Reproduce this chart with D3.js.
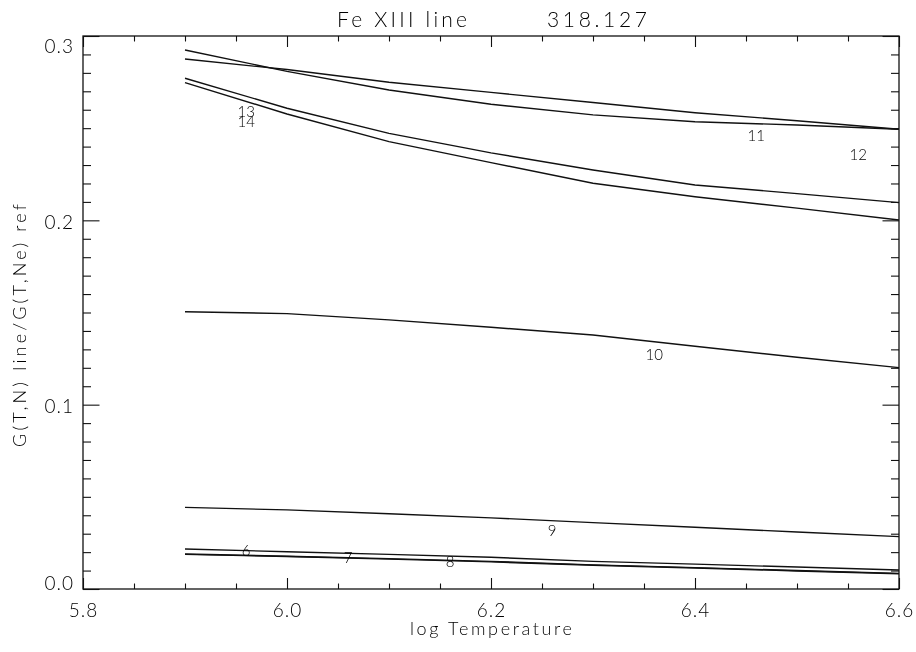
<!DOCTYPE html>
<html>
<head>
<meta charset="utf-8">
<script src="https://cdn.jsdelivr.net/npm/d3@7/dist/d3.min.js"></script>
<style>
	body { margin: 0; background: #fff; }
	svg { display: block; will-change: transform; }
	text { font-family: Lato, 'DejaVu Sans', sans-serif; font-weight: 300; fill: #000; }
</style>
</head>
<body>
<svg id="chart"></svg>
<script>
// temperature grid of every curve
let logT = [5.9, 6.0, 6.1, 6.2, 6.3, 6.4, 6.5, 6.6];

// G(T,N) line / G(T,Ne) ref, one list per line
let g6  = [0.0217, 0.0202, 0.0188, 0.0172, 0.0150, 0.0135, 0.0119, 0.0103];
let g7  = [0.0190, 0.0178, 0.0165, 0.0150, 0.0131, 0.0116, 0.0100, 0.0085];
let g8  = [0.0188, 0.0176, 0.0162, 0.0147, 0.0129, 0.0114, 0.0098, 0.0083];
let g9  = [0.0443, 0.0429, 0.0408, 0.0386, 0.0360, 0.0335, 0.0309, 0.0284];
let g10 = [0.1504, 0.1494, 0.1460, 0.1420, 0.1378, 0.1317, 0.1257, 0.1201];
let g11 = [0.2875, 0.2818, 0.2749, 0.2694, 0.2639, 0.2584, 0.2540, 0.2494];
let g12 = [0.2924, 0.2808, 0.2707, 0.2630, 0.2572, 0.2535, 0.2517, 0.2494];
let g13 = [0.2771, 0.2608, 0.2472, 0.2366, 0.2273, 0.2192, 0.2145, 0.2096];
let g14 = [0.2747, 0.2577, 0.2427, 0.2313, 0.2201, 0.2128, 0.2066, 0.2002];

// line numbers and where they are written (data units)
let lineIds = ['6', '7', '8', '9', '10', '11', '12', '13', '14'];
let labelT  = [5.96, 6.06, 6.16, 6.26, 6.36, 6.46, 6.56, 5.96, 5.96];
let labelG  = [0.0179, 0.0141, 0.0119, 0.0288, 0.1242, 0.2430, 0.2327, 0.2561, 0.2506];

let xMajor = [5.8, 6.0, 6.2, 6.4, 6.6];
let yMajor = [0.0, 0.1, 0.2, 0.3];

function makeChart() {
	let w = 916;
	let h = 652;
	let left = 83, right = 899, top = 36, bottom = 589;

	let chart = d3.select('#chart')
		.attr('width', w)
		.attr('height', h);

	let x = d3.scaleLinear().domain([5.8, 6.6]).range([left, right]);
	let y = d3.scaleLinear().domain([0, 0.3]).range([bottom, top]);

	let xMinor = d3.range(5.8, 6.6001, 0.05).filter(v => xMajor.every(m => Math.abs(m - v) > 1e-6));
	let yMinor = d3.range(0, 0.3001, 0.01).filter(v => yMajor.every(m => Math.abs(m - v) > 1e-6));

	let fmt = d3.format('.1f');

	function tidy(g) {
		g.select('.domain').remove();
		g.selectAll('line').attr('stroke', '#111').attr('stroke-width', 1.1);
	}

	// bottom
	chart.append('g').attr('transform', `translate(0,${bottom})`)
		.call(d3.axisBottom(x).tickValues(xMajor).tickSize(-11).tickPadding(15).tickFormat(fmt))
		.call(tidy)
		.selectAll('text')
		.style('font-size', '19px').style('font-family', null).style('letter-spacing', '1px');
	chart.append('g').attr('transform', `translate(0,${bottom})`)
		.call(d3.axisBottom(x).tickValues(xMinor).tickSize(-5.5).tickFormat(''))
		.call(tidy);
	// top
	chart.append('g').attr('transform', `translate(0,${top})`)
		.call(d3.axisTop(x).tickValues(xMajor).tickSize(-11).tickFormat(''))
		.call(tidy);
	chart.append('g').attr('transform', `translate(0,${top})`)
		.call(d3.axisTop(x).tickValues(xMinor).tickSize(-5.5).tickFormat(''))
		.call(tidy);
	// left
	let yl = chart.append('g').attr('transform', `translate(${left},0)`)
		.call(d3.axisLeft(y).tickValues(yMajor).tickSize(-16.5).tickPadding(9).tickFormat(fmt))
		.call(tidy);
	yl.selectAll('text')
		.style('font-size', '19px').style('font-family', null).style('letter-spacing', '1px')
		.attr('dy', d => d === 0.3 ? '0.85em' : d === 0 ? '0.05em' : '0.42em');
	chart.append('g').attr('transform', `translate(${left},0)`)
		.call(d3.axisLeft(y).tickValues(yMinor).tickSize(-8).tickFormat(''))
		.call(tidy);
	// right
	chart.append('g').attr('transform', `translate(${right},0)`)
		.call(d3.axisRight(y).tickValues(yMajor).tickSize(-16.5).tickFormat(''))
		.call(tidy);
	chart.append('g').attr('transform', `translate(${right},0)`)
		.call(d3.axisRight(y).tickValues(yMinor).tickSize(-8).tickFormat(''))
		.call(tidy);

	chart.append('rect')
		.attr('x', left).attr('y', top)
		.attr('width', right - left).attr('height', bottom - top)
		.attr('fill', 'none').attr('stroke', '#111').attr('stroke-width', 1.3);

	// curves
	let series = [g6, g7, g8, g9, g10, g11, g12, g13, g14];
	let line = d3.line()
		.x((d, i) => x(logT[i]))
		.y(d => y(d));

	chart.append('g').selectAll('path')
		.data(series)
		.enter()
		.append('path')
		.attr('d', line)
		.attr('fill', 'none')
		.attr('stroke', '#111')
		.attr('stroke-width', 1.4);

	chart.append('g').selectAll('text')
		.data(lineIds)
		.enter()
		.append('text')
		.attr('x', (d, i) => x(labelT[i]))
		.attr('y', (d, i) => y(labelG[i]))
		.attr('text-anchor', 'middle')
		.style('font-size', '15px')
		.text(d => d);

	// titles
	chart.append('text')
		.attr('x', 337).attr('y', 27)
		.attr('textLength', 130).attr('lengthAdjust', 'spacing')
		.style('font-size', '21px')
		.text('Fe XIII line');
	chart.append('text')
		.attr('x', 547).attr('y', 27)
		.attr('textLength', 100).attr('lengthAdjust', 'spacing')
		.style('font-size', '21px')
		.text('318.127');

	chart.append('text')
		.attr('x', 410).attr('y', 635)
		.attr('textLength', 162).attr('lengthAdjust', 'spacing')
		.style('font-size', '18px')
		.text('log Temperature');

	chart.append('text')
		.attr('transform', 'translate(26,326) rotate(-90)')
		.attr('x', -121).attr('y', 0)
		.attr('textLength', 243).attr('lengthAdjust', 'spacing')
		.style('font-size', '18px')
		.text('G(T,N) line/G(T,Ne) ref');
}

window.onload = function () {
	makeChart();
}
</script>
</body>
</html>
